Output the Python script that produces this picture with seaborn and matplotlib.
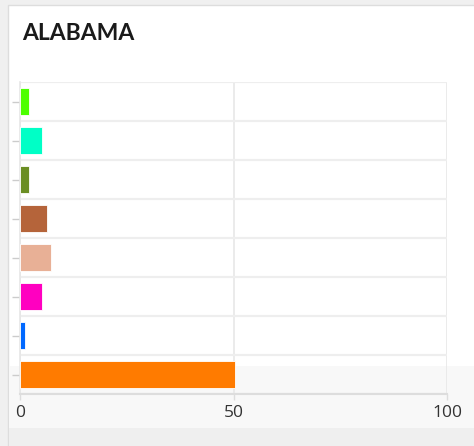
import matplotlib
matplotlib.use('Agg')
import matplotlib.pyplot as plt
import seaborn as sns
import pandas as pd
from matplotlib.patches import Rectangle
from matplotlib.ticker import FixedLocator

# data
categories = ['cat1', 'cat2', 'cat3', 'cat4', 'cat5', 'cat6', 'cat7', 'cat8']
values = [2.2, 5.2, 2.2, 6.3, 7.3, 5.2, 1.2, 50.4]
colors = ['#4cff00', '#00ffc6', '#6b8e23', '#b5643a', '#e8b096', '#ff00c0', '#0068ff', '#ff7b00']
x_ticks = [0, 50, 100]

df = pd.DataFrame({'cat': categories, 'val': values})

sns.set_theme(style='white')
plt.rcParams['font.family'] = ['Open Sans', 'DejaVu Sans']

fig = plt.figure(figsize=(4.74, 4.46), dpi=100)
fig.patch.set_facecolor('#f0f0f0')

# white card
fig.patches.append(Rectangle((8 / 474, 0), 1, 1 - 5 / 446, transform=fig.transFigure,
                             facecolor='white', edgecolor='#dddddd', linewidth=1, zorder=-3))
# greyish strip at the bottom of the card
fig.patches.append(Rectangle((9 / 474, 0), 1, (446 - 366) / 446, transform=fig.transFigure,
                             facecolor='#f8f8f8', edgecolor='none', zorder=-2))
fig.patches.append(Rectangle((9 / 474, 0), 1, (446 - 428) / 446, transform=fig.transFigure,
                             facecolor='#efefef', edgecolor='none', zorder=-1))

ax = fig.add_axes([20 / 474, 1 - 394 / 446, 427 / 474, 312 / 446])
ax.set_zorder(2)
ax.set_facecolor('none')

sns.barplot(data=df, x='val', y='cat', hue='cat', palette=colors, legend=False,
            orient='h', width=0.67, saturation=1, ax=ax,
            edgecolor='#ffffff', linewidth=0.6, zorder=3)

ax.set_xlim(0, 100)
ax.set_ylim(7.5, -0.5)
ax.set_xticks(x_ticks)
ax.set_xticklabels([str(t) for t in x_ticks])
ax.set_yticklabels([])
ax.set_xlabel('')
ax.set_ylabel('')

# row separators and vertical grid
ax.yaxis.set_minor_locator(FixedLocator([i - 0.5 for i in range(len(categories) + 1)]))
ax.grid(True, axis='y', which='minor', color='#eeeeee', linewidth=1.6, zorder=0)
ax.grid(True, axis='x', which='major', color='#e8e8e8', linewidth=1.2, zorder=0)
ax.set_axisbelow(True)

ax.tick_params(axis='y', which='major', left=True, length=6, width=1, color='#cccccc', pad=0)
ax.tick_params(axis='y', which='minor', left=False)
ax.tick_params(axis='x', bottom=True, length=4, width=1, color='#dddddd',
               labelsize=12.5, labelcolor='#333333', pad=4)

for side in ['top', 'right']:
    ax.spines[side].set_visible(False)
ax.spines['left'].set_color('#e6e6e6')
ax.spines['left'].set_linewidth(1.2)
ax.spines['bottom'].set_color('#dddddd')
ax.spines['bottom'].set_linewidth(1.5)

fig.text(22 / 474, 1 - 34 / 446, 'ALABAMA', fontsize=16.5, fontweight='bold',
         color='#1a1a1a', va='center', ha='left', family=['Lato', 'DejaVu Sans'])

fig.savefig('out.png', dpi=100, facecolor=fig.get_facecolor())
